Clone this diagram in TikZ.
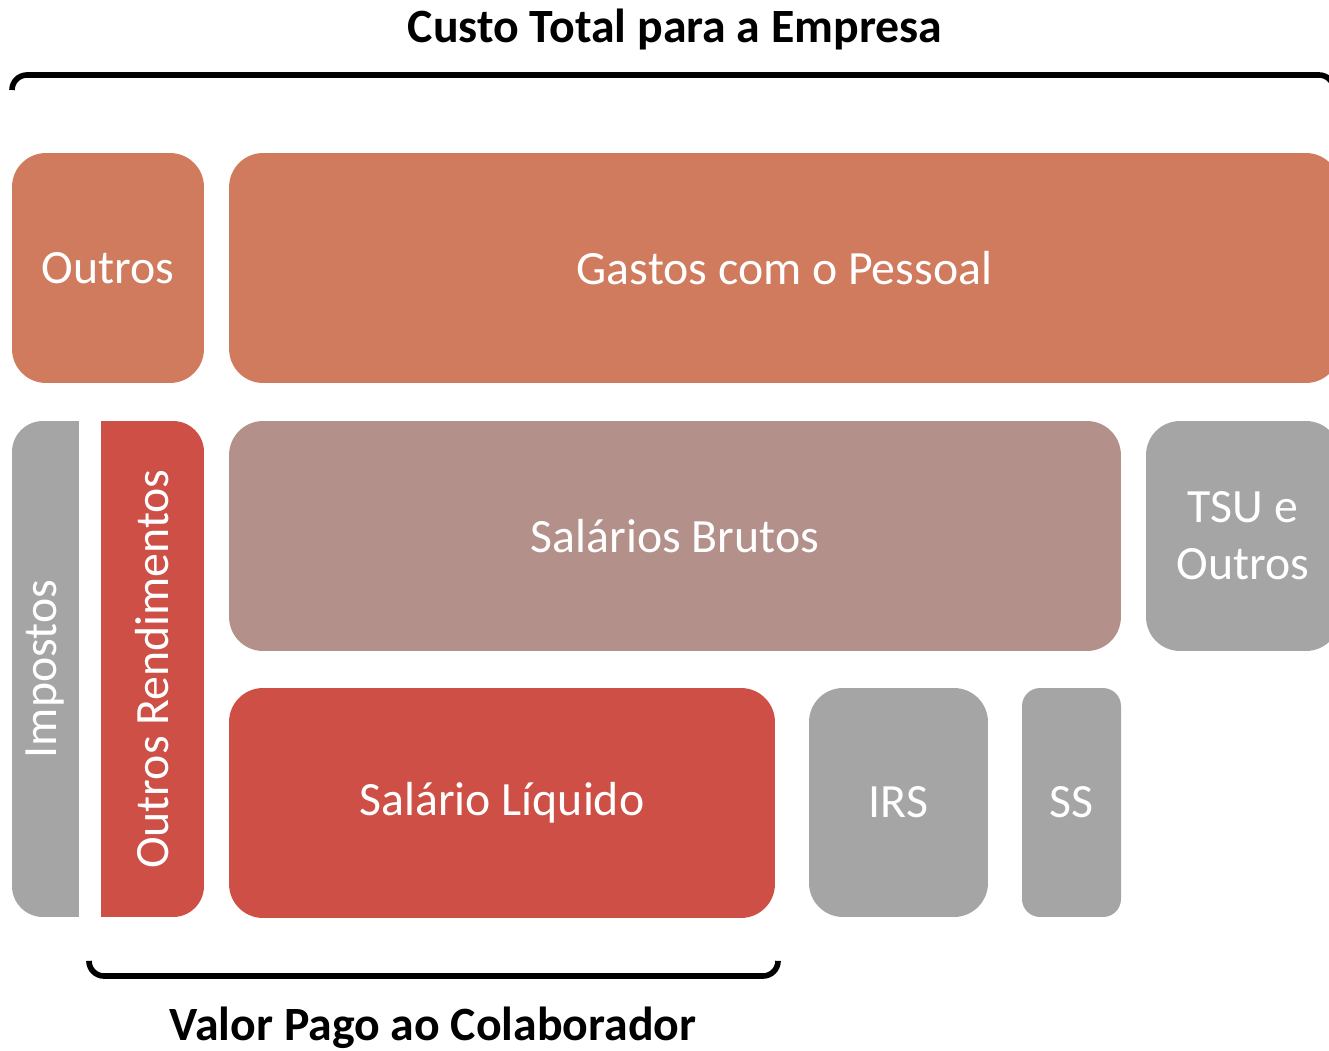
\documentclass[tikz,border=0pt]{standalone}
\usepackage{fontspec}
\setmainfont{Carlito}
\usetikzlibrary{positioning}
\definecolor{terracota}{HTML}{D17B5E}
\definecolor{rosado}{HTML}{B39089}
\definecolor{vermelho}{HTML}{CE4F46}
\definecolor{cinza}{HTML}{A5A5A5}
\tikzset{
  caixa/.style = {rectangle, rounded corners=0.68cm, inner sep=0pt,
    text=white, align=center, font=\fontsize{27.2}{32.4}\selectfont},
  cx_terra/.style = {caixa, fill=terracota},
  cx_rosa/.style = {caixa, fill=rosado},
  cx_verm/.style = {caixa, fill=vermelho},
  cx_cinza/.style = {caixa, fill=cinza},
  faixa/.style = {caixa, rounded corners=0pt, rotate=90},% caixas verticais
  titulo/.style = {font=\fontsize{27.2}{32}\selectfont\bfseries},
  chaveta/.style = {line width=3.2pt, rounded corners=0.3cm}
}

\begin{document}
\begin{tikzpicture}[x=0.02cm,y=-0.02cm]
\useasboundingbox (0,0) rectangle (1329,1051);
% custo total
\node [titulo] (custo) at (675,29) {Custo Total para a Empresa};
\coordinate (ct_a) at (12,90);
\coordinate (ct_b) at (1334,90);
\draw [chaveta] (ct_a) -- (12,75) -- (1334,75) -- (ct_b);
% primeira linha
\node [cx_terra, minimum width=3.84cm, minimum height=4.6cm] (outros) at (108,268) {Outros};
\node [cx_terra, minimum width=22.22cm, minimum height=4.6cm] (gastos) at (784.5,268) {Gastos com o Pessoal};
% impostos + outros rendimentos
\begin{scope}
  \clip [rounded corners=0.62cm] (12,421) rectangle (204,917);
  \node [faixa, fill=cinza, minimum width=9.92cm, minimum height=1.34cm] (impostos) at (45.5,669) {Impostos};
  \node [faixa, fill=vermelho, minimum width=9.92cm, minimum height=2.06cm] (outrosrend) at (152.5,669) {Outros Rendimentos};
\end{scope}
\node [cx_rosa, minimum width=17.84cm, minimum height=4.6cm] (brutos) at (675,536) {Salários Brutos};
\node [cx_cinza, minimum width=3.88cm, minimum height=4.6cm] (tsu) at (1243,536) {TSU e\\Outros};
\node [cx_verm, minimum width=10.92cm, minimum height=4.6cm] (liquido) at (502,803) {Salário Líquido};
\node [cx_cinza, minimum width=3.58cm, minimum height=4.58cm] (irs) at (898.5,802.5) {IRS};
\node [cx_cinza, rounded corners=0.36cm, minimum width=1.98cm, minimum height=4.58cm] (ss) at (1071.5,802.5) {SS};
% valor pago
\coordinate (vp_a) at (89,962);
\coordinate (vp_b) at (778,962);
\draw [chaveta] (vp_a) -- (89,976) -- (778,976) -- (vp_b);
\node [titulo] (valor) at (433,1028) {Valor Pago ao Colaborador};
\end{tikzpicture}
\end{document}
